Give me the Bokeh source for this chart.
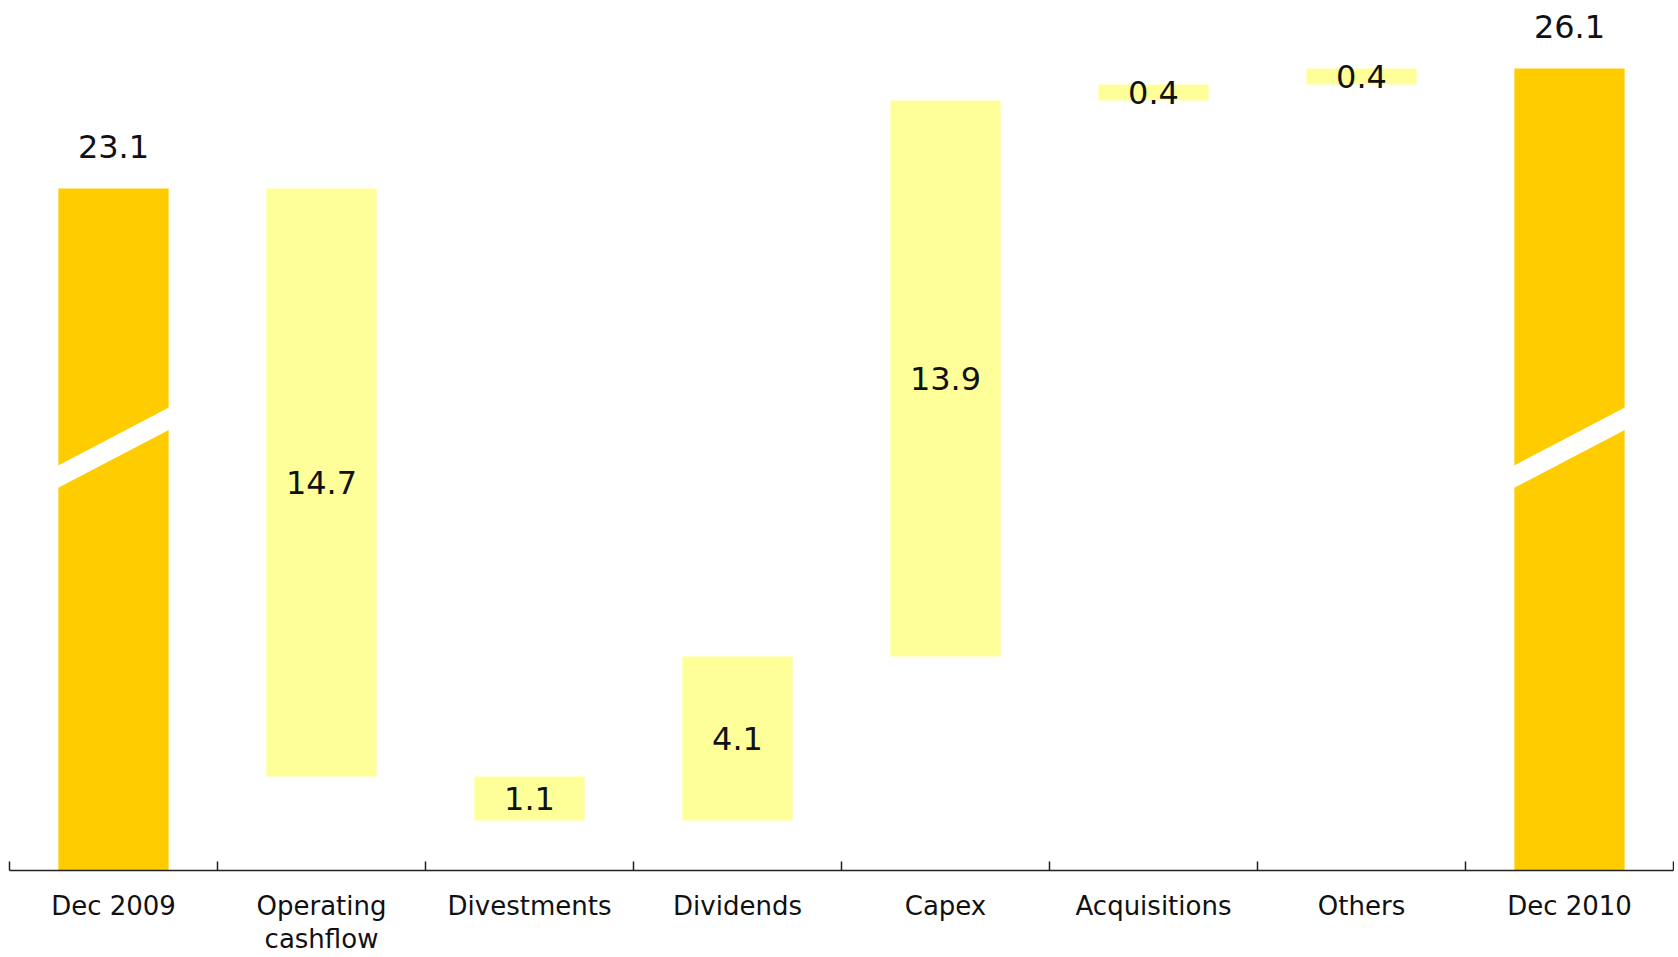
from bokeh.plotting import figure
from bokeh.models import Range1d, FixedTicker
from bokeh.core.properties import value
from bokeh.embed import file_html
from bokeh.resources import INLINE

# ---- data ----
categories = ["Dec 2009", "Operating\ncashflow", "Divestments", "Dividends",
              "Capex", "Acquisitions", "Others", "Dec 2010"]
start_total = 23.1
changes = [-14.7, -1.1, 4.1, 13.9, 0.4, 0.4]   # change in net debt
end_total = 26.1

# ---- layout constants ----
Y_START, Y_END = 6.05, 27.8
BAR_W = 0.53
TOTAL_COLOR = "#FFCC00"
FLOW_COLOR = "#FFFF99"
FONT = "DejaVu Sans"

# build waterfall geometry
xs_tot = [0.5, len(categories) - 0.5]
tot_vals = [start_total, end_total]
flow_x, flow_bot, flow_top, flow_lab, flow_mid = [], [], [], [], []
level = start_total
for i, c in enumerate(changes):
    new = level + c
    flow_x.append(i + 1.5)
    flow_bot.append(min(level, new))
    flow_top.append(max(level, new))
    flow_mid.append((level + new) / 2)
    flow_lab.append(f"{abs(c):.1f}")
    level = new

p = figure(width=1674, height=957, output_backend="svg", toolbar_location=None,
           x_range=Range1d(0, len(categories)), y_range=Range1d(Y_START, Y_END),
           y_axis_location=None, min_border_left=9, min_border_right=1,
           min_border_top=0, min_border_bottom=80)
p.outline_line_color = None
p.xgrid.visible = False
p.ygrid.visible = False
p.background_fill_color = "white"

# totals
p.vbar(x=xs_tot, top=tot_vals, bottom=Y_START, width=BAR_W,
       fill_color=TOTAL_COLOR, line_color=None)
# flows
p.vbar(x=flow_x, top=flow_top, bottom=flow_bot, width=BAR_W,
       fill_color=FLOW_COLOR, line_color=None)

# axis break marks on total bars
BREAK_C, BREAK_RISE, BREAK_HALF = 16.62, 0.73, 0.28
bx, by = [], []
for x in xs_tot:
    l, r = x - BAR_W / 2 - 0.003, x + BAR_W / 2 + 0.003
    bx.append([l, r, r, l])
    by.append([BREAK_C - BREAK_RISE - BREAK_HALF, BREAK_C + BREAK_RISE - BREAK_HALF,
               BREAK_C + BREAK_RISE + BREAK_HALF, BREAK_C - BREAK_RISE + BREAK_HALF])
p.patches(bx, by, fill_color="white", line_color=None)

# labels
p.text(x=xs_tot, y=tot_vals, text=[f"{v:.1f}" for v in tot_vals],
       text_align="center", text_baseline="alphabetic", y_offset=-42,
       text_font=value(FONT), text_font_size="32px", text_color="#111111")
p.text(x=flow_x, y=flow_mid, text=flow_lab,
       text_align="center", text_baseline="middle",
       text_font=value(FONT), text_font_size="32px", text_color="#111111")

# x axis: labels at centres, ticks at boundaries
ax = p.xaxis[0]
ax.ticker = FixedTicker(ticks=[i + 0.5 for i in range(len(categories))],
                        minor_ticks=list(range(len(categories) + 1)))
ax.major_label_overrides = {i + 0.5: c for i, c in enumerate(categories)}
ax.major_tick_in = 0
ax.major_tick_out = 0
ax.minor_tick_in = 9
ax.minor_tick_out = 0
ax.minor_tick_line_color = "#222222"
ax.minor_tick_line_width = 1.5
ax.axis_line_color = "#222222"
ax.axis_line_width = 1.5
ax.major_label_standoff = 20
ax.major_label_text_font = FONT
ax.major_label_text_font_size = "26px"
ax.major_label_text_line_height = 1.12
ax.major_label_text_color = "#111111"

open("out.html", "w").write(file_html(p, INLINE))
